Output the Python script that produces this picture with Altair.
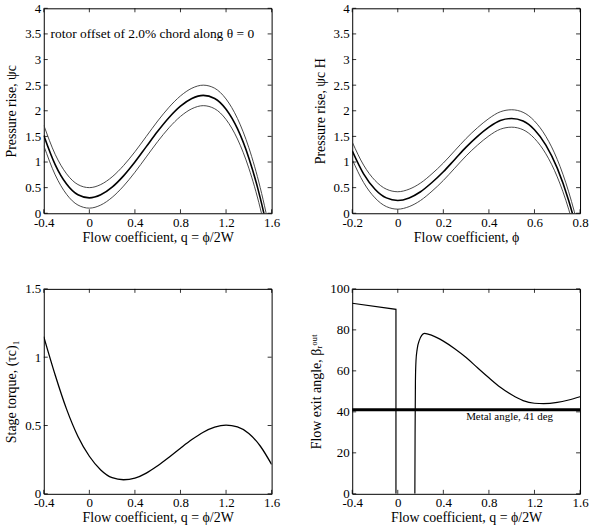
import altair as alt
import pandas as pd

FONT = "Liberation Serif"
W, H = 229, 206

# --- top-left: pressure rise against q = phi/2W, three offsets ---
q_rise = [-0.4, -0.3, -0.2, -0.1, 0.0, 0.1, 0.2, 0.3, 0.4, 0.5, 0.6, 0.7,
          0.8, 0.9, 1.0, 1.1, 1.2, 1.3, 1.4, 1.5, 1.55, 1.6]
rise_mid = [1.52, 0.95, 0.57, 0.36, 0.30, 0.36, 0.51, 0.73, 1.00, 1.30, 1.60, 1.87,
            2.09, 2.24, 2.30, 2.24, 2.03, 1.65, 1.08, 0.30, -0.18, -0.72]
rise_up = [1.72, 1.15, 0.77, 0.56, 0.50, 0.56, 0.71, 0.93, 1.20, 1.50, 1.80, 2.07,
           2.29, 2.44, 2.50, 2.44, 2.23, 1.85, 1.28, 0.50, 0.02, -0.52]
rise_lo = [1.32, 0.75, 0.37, 0.16, 0.10, 0.16, 0.31, 0.53, 0.80, 1.10, 1.40, 1.67,
           1.89, 2.04, 2.10, 2.04, 1.83, 1.45, 0.88, 0.10, -0.38, -0.92]

# --- top-right: pressure rise times H against phi ---
phi = [-0.2, -0.15, -0.1, -0.05, 0.0, 0.05, 0.1, 0.15, 0.2, 0.25, 0.3, 0.35,
       0.4, 0.45, 0.5, 0.55, 0.6, 0.65, 0.7, 0.75, 0.775, 0.8]
riseH_mid = [1.22, 0.77, 0.47, 0.30, 0.25, 0.30, 0.42, 0.60, 0.81, 1.05, 1.29, 1.50,
             1.68, 1.81, 1.85, 1.80, 1.63, 1.33, 0.88, 0.25, -0.14, -0.57]
riseH_up = [1.39, 0.94, 0.64, 0.47, 0.42, 0.47, 0.59, 0.77, 0.98, 1.22, 1.46, 1.67,
            1.85, 1.98, 2.02, 1.97, 1.80, 1.50, 1.05, 0.42, 0.03, -0.40]
riseH_lo = [1.05, 0.60, 0.30, 0.13, 0.08, 0.13, 0.25, 0.43, 0.64, 0.88, 1.12, 1.33,
            1.51, 1.64, 1.68, 1.63, 1.46, 1.16, 0.71, 0.08, -0.31, -0.74]

# --- bottom-left: stage torque ---
q_torque = [-0.4, -0.3, -0.2, -0.1, 0.0, 0.1, 0.2, 0.3, 0.4, 0.5, 0.6, 0.7,
            0.8, 0.9, 1.0, 1.1, 1.2, 1.3, 1.4, 1.5, 1.6]
torque = [1.15, 0.87, 0.62, 0.42, 0.275, 0.175, 0.118, 0.103, 0.115, 0.152, 0.206,
          0.268, 0.334, 0.397, 0.451, 0.488, 0.503, 0.490, 0.442, 0.350, 0.215]

# --- bottom-right: rotor flow exit angle ---
q_exit_a = [-0.4, -0.016, -0.016]
exit_a = [93.0, 90.0, 0.0]
q_exit_b = [0.15, 0.152, 0.155, 0.16, 0.17, 0.19, 0.21, 0.235, 0.30, 0.40, 0.50,
            0.60, 0.70, 0.80, 0.90, 1.00, 1.10, 1.20, 1.28, 1.40, 1.50, 1.60]
exit_b = [0.0, 30.0, 55.0, 65.0, 70.5, 75.0, 77.3, 78.3, 77.3, 74.5, 70.8,
          66.5, 61.5, 56.6, 52.0, 48.3, 45.5, 44.2, 44.0, 44.6, 45.8, 47.4]
metal_angle = [41.0]

# axis tick values
q_ticks = [-0.4, 0, 0.4, 0.8, 1.2, 1.6]
phi_ticks = [-0.2, 0, 0.2, 0.4, 0.6, 0.8]
rise_ticks = [0, 0.5, 1, 1.5, 2, 2.5, 3, 3.5, 4]
torque_ticks = [0, 0.5, 1, 1.5]
angle_ticks = [0, 20, 40, 60, 80, 100]

XT_Q = "Flow coefficient, q = ϕ/2W"
LABEL = "replace(format(datum.value, '~g'), '\u2212', '-')"


def axis(values, title, label_pad, title_pad):
    return alt.Axis(values=values, title=title, labelExpr=LABEL,
                    ticks=False, domain=False, grid=False, labelFlush=False,
                    labelOverlap=False, labelFont=FONT, labelFontSize=13,
                    titleFont=FONT, titleFontSize=14, titleFontWeight="normal",
                    labelColor="black", titleColor="black", labelPadding=label_pad,
                    titlePadding=title_pad)


class Panel:
    """One framed plot: shared scales/axes for every layer plus inward ticks."""

    def __init__(self, xdom, ydom, xticks, yticks, xtitle, ytitle):
        self.xs = alt.Scale(domain=xdom, nice=False, zero=False)
        self.ys = alt.Scale(domain=ydom, nice=False, zero=False)
        self.xa = axis(xticks, xtitle, 3, 1)
        self.ya = axis(yticks, ytitle, 3, 6)
        self.xticks, self.yticks = xticks, yticks

    def x(self, f):
        return alt.X(f"{f}:Q", scale=self.xs, axis=self.xa)

    def y(self, f):
        return alt.Y(f"{f}:Q", scale=self.ys, axis=self.ya)

    def curve(self, df, xf, yf, width, color="black", interp="monotone"):
        return alt.Chart(df).mark_line(color=color, strokeWidth=width, clip=True,
                                       interpolate=interp).encode(
            x=self.x(xf), y=self.y(yf), order="i:Q")

    def ticks(self):
        tx = pd.DataFrame({"v": self.xticks})
        ty = pd.DataFrame({"v": self.yticks})
        rule = dict(color="black", strokeWidth=0.8)
        return [
            alt.Chart(tx).mark_rule(**rule).encode(x=self.x("v"), y=alt.value(H), y2=alt.value(H - 4)),
            alt.Chart(tx).mark_rule(**rule).encode(x=self.x("v"), y=alt.value(0), y2=alt.value(4)),
            alt.Chart(ty).mark_rule(**rule).encode(y=self.y("v"), x=alt.value(0), x2=alt.value(4)),
            alt.Chart(ty).mark_rule(**rule).encode(y=self.y("v"), x=alt.value(W), x2=alt.value(W - 4)),
        ]

    def text(self, t, x, y, size):
        df = pd.DataFrame({"t": [t], "x": [x], "y": [y]})
        return alt.Chart(df).mark_text(align="left", baseline="middle", font=FONT,
                                       fontSize=size, color="black").encode(
            x=self.x("x"), y=self.y("y"), text="t:N")


# panel 1
P1 = Panel([-0.4, 1.6], [0, 4], q_ticks, rise_ticks, XT_Q, "Pressure rise, ψc")
d1 = pd.DataFrame({"q": q_rise, "mid": rise_mid, "up": rise_up, "lo": rise_lo,
                   "i": range(len(q_rise))})
p1 = alt.layer(
    P1.curve(d1, "q", "mid", 1.6),
    P1.curve(d1, "q", "up", 0.9, "#333333"),
    P1.curve(d1, "q", "lo", 0.9, "#333333"),
    *P1.ticks(),
    P1.text("rotor offset of 2.0% chord along θ = 0", -0.34, 3.5, 13.5),
).properties(width=W, height=H)

# panel 2
P2 = Panel([-0.2, 0.8], [0, 4], phi_ticks, rise_ticks, "Flow coefficient, ϕ", "Pressure rise, ψc H")
d2 = pd.DataFrame({"p": phi, "mid": riseH_mid, "up": riseH_up, "lo": riseH_lo,
                   "i": range(len(phi))})
p2 = alt.layer(
    P2.curve(d2, "p", "mid", 1.6),
    P2.curve(d2, "p", "up", 0.9, "#333333"),
    P2.curve(d2, "p", "lo", 0.9, "#333333"),
    *P2.ticks(),
).properties(width=W, height=H)

# panel 3
P3 = Panel([-0.4, 1.6], [0, 1.5], q_ticks, torque_ticks, XT_Q, "Stage torque, (τc)₁")
d3 = pd.DataFrame({"q": q_torque, "t": torque, "i": range(len(q_torque))})
p3 = alt.layer(
    P3.curve(d3, "q", "t", 1.3),
    *P3.ticks(),
).properties(width=W, height=H)

# panel 4
P4 = Panel([-0.4, 1.6], [0, 100], q_ticks, angle_ticks, XT_Q, "Flow exit angle, βᵣᵒᵘᵗ")
d4a = pd.DataFrame({"q": q_exit_a, "b": exit_a, "i": range(len(q_exit_a))})
d4b = pd.DataFrame({"q": q_exit_b, "b": exit_b, "i": range(len(q_exit_b))})
p4 = alt.layer(
    P4.curve(d4a, "q", "b", 1.2, interp="linear"),
    P4.curve(d4b, "q", "b", 1.2),
    alt.Chart(pd.DataFrame({"m": metal_angle})).mark_rule(color="black", strokeWidth=3)
    .encode(y=P4.y("m")),
    P4.text("Metal angle, 41 deg", 0.6, 37.5, 11),
    *P4.ticks(),
).properties(width=W, height=H)

chart = alt.concat(
    p1, p2, p3, p4, columns=2,
    spacing={"row": 76, "column": 81}, bounds="flush",
).properties(
    padding={"left": 4, "top": 0, "right": 0, "bottom": 0},
    background="white",
).configure_view(stroke="black", strokeWidth=1)

chart.save("out.html", embed_options={"renderer": "svg", "actions": False})
